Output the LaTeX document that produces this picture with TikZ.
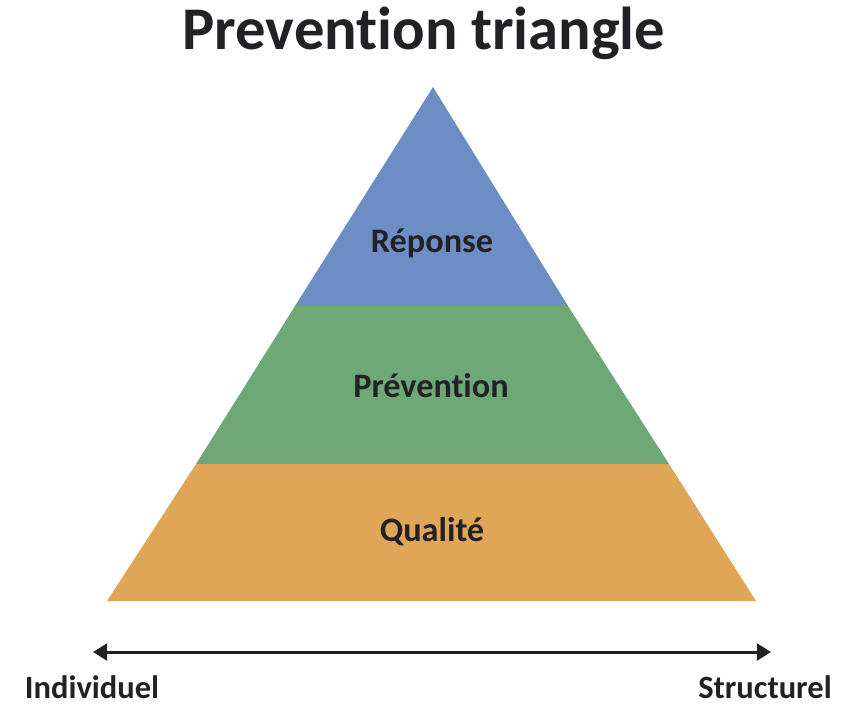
\documentclass[tikz,border=0pt]{standalone}
\usepackage{fontspec}
\setmainfont{Carlito}[Ligatures=NoCommon]
\usepackage{xcolor}
\usepackage{tikz}
\usetikzlibrary{arrows.meta}

\definecolor{topblue}{RGB}{108,142,196}
\definecolor{midgreen}{RGB}{110,168,118}
\definecolor{baseorange}{RGB}{223,166,88}
\definecolor{inkdark}{RGB}{34,34,38}

\begin{document}
\begin{tikzpicture}[
      x=0.02cm, y=-0.02cm,
      layer/.style={draw=none},
      lbl/.style={font=\fontsize{19.5}{22}\selectfont\bfseries, text=inkdark},
      axislbl/.style={font=\fontsize{18.5}{21}\selectfont\bfseries, text=inkdark, inner sep=0pt},
      axis/.style={line width=1.7pt, draw=inkdark, {Triangle[length=8pt,width=9.5pt]}-{Triangle[length=8pt,width=9.5pt]}}
    ]
      \useasboundingbox (0,0) rectangle (841,704);

      \node[font=\fontsize{34.5}{38}\selectfont\bfseries, text=inkdark] (title) at (424,33) {Prevention triangle};

      % corners of the triangle and layer edges
      \coordinate (apex) at (433,87);
      \coordinate (bl) at (107,601);
      \coordinate (br) at (756,601);
      \coordinate (l1) at (295,306);
      \coordinate (r1) at (568,306);
      \coordinate (l2) at (196,464);
      \coordinate (r2) at (669,464);

      \fill[layer, topblue] (apex) -- (r1) -- (l1) -- cycle;
      \fill[layer, midgreen] (l1) -- (r1) -- (r2) -- (l2) -- cycle;
      \fill[layer, baseorange] (l2) -- (r2) -- (br) -- (bl) -- cycle;

      \node[lbl] (reponse) at (432,243) {Réponse};
      \node[lbl] (prevention) at (431,386) {Prévention};
      \node[lbl] (qualite) at (432,532) {Qualité};

      \coordinate (aleft) at (93,652);
      \coordinate (aright) at (771,652);
      \draw[axis] (aleft) -- (aright);

      \node[axislbl] (indiv) at (92,687) {Individuel};
      \node[axislbl] (struct) at (765,687) {Structurel};
    \end{tikzpicture}
\end{document}
